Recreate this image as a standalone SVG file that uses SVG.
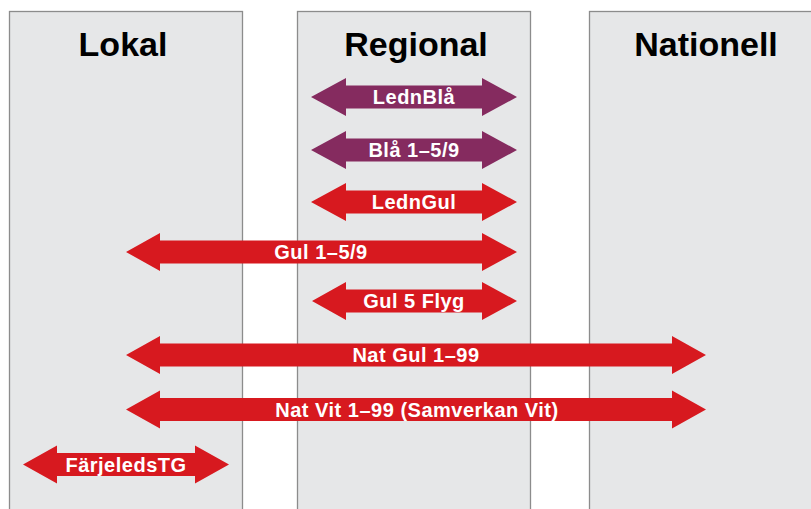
<svg xmlns="http://www.w3.org/2000/svg" width="811" height="509" viewBox="0 0 811 509">
<style>
.panel{fill:#e6e7e8;stroke:#8c8c8c;stroke-width:1.3}
.title{font-family:"Liberation Sans",Arial,sans-serif;font-weight:bold;font-size:34px;fill:#000;text-anchor:middle}
.lbl{font-family:"Liberation Sans",Arial,sans-serif;font-weight:bold;font-size:20px;letter-spacing:0.5px;fill:#fff;text-anchor:middle}
.red{fill:#d7191f}
.pur{fill:#852b5f}
</style>
<rect width="811" height="509" fill="#fff"/>
<g id="lokal"><rect class="panel" x="9.5" y="11.5" width="233" height="510"/><text class="title" x="123" y="56">Lokal</text></g>
<g id="regional"><rect class="panel" x="297.5" y="11.5" width="233" height="510"/><text class="title" x="416" y="56">Regional</text></g>
<g id="nationell"><rect class="panel" x="589.5" y="11.5" width="240" height="510"/><text class="title" x="706" y="56">Nationell</text></g>
<g id="connectors">
<g id="lednbla"><path class="pur" d="M311,97 L346,78 L346,85.5 L482,85.5 L482,78 L517,97 L482,116 L482,108.5 L346,108.5 L346,116 Z"/><text class="lbl" x="414" y="104">LednBlå</text></g>
<g id="bla159"><path class="pur" d="M311,150 L346,131 L346,138.5 L482,138.5 L482,131 L517,150 L482,169 L482,161.5 L346,161.5 L346,169 Z"/><text class="lbl" x="414" y="157">Blå 1–5/9</text></g>
<g id="ledngul"><path class="red" d="M311,202 L346,183 L346,190.5 L482,190.5 L482,183 L517,202 L482,221 L482,213.5 L346,213.5 L346,221 Z"/><text class="lbl" x="414" y="209">LednGul</text></g>
<g id="gul159"><path class="red" d="M126,252 L160,233 L160,240.5 L482,240.5 L482,233 L517,252 L482,271 L482,263.5 L160,263.5 L160,271 Z"/><text class="lbl" x="321" y="259">Gul 1–5/9</text></g>
<g id="gul5flyg"><path class="red" d="M312,301 L346,282 L346,289.5 L482,289.5 L482,282 L517,301 L482,320 L482,312.5 L346,312.5 L346,320 Z"/><text class="lbl" x="414" y="308">Gul 5 Flyg</text></g>
<g id="natgul"><path class="red" d="M126,355 L160,336 L160,343.5 L672,343.5 L672,336 L706,355 L672,374 L672,366.5 L160,366.5 L160,374 Z"/><text class="lbl" x="416" y="362">Nat Gul 1–99</text></g>
<g id="natvit"><path class="red" d="M126,409.5 L160,390.5 L160,398 L672,398 L672,390.5 L706,409.5 L672,428.5 L672,421 L160,421 L160,428.5 Z"/><text class="lbl" x="417" y="416.5">Nat Vit 1–99 (Samverkan Vit)</text></g>
<g id="farjeledstg"><path class="red" d="M23,464.5 L57,445.5 L57,453 L195,453 L195,445.5 L229,464.5 L195,483.5 L195,476 L57,476 L57,483.5 Z"/><text class="lbl" x="126" y="471.5">FärjeledsTG</text></g>
</g>
</svg>
